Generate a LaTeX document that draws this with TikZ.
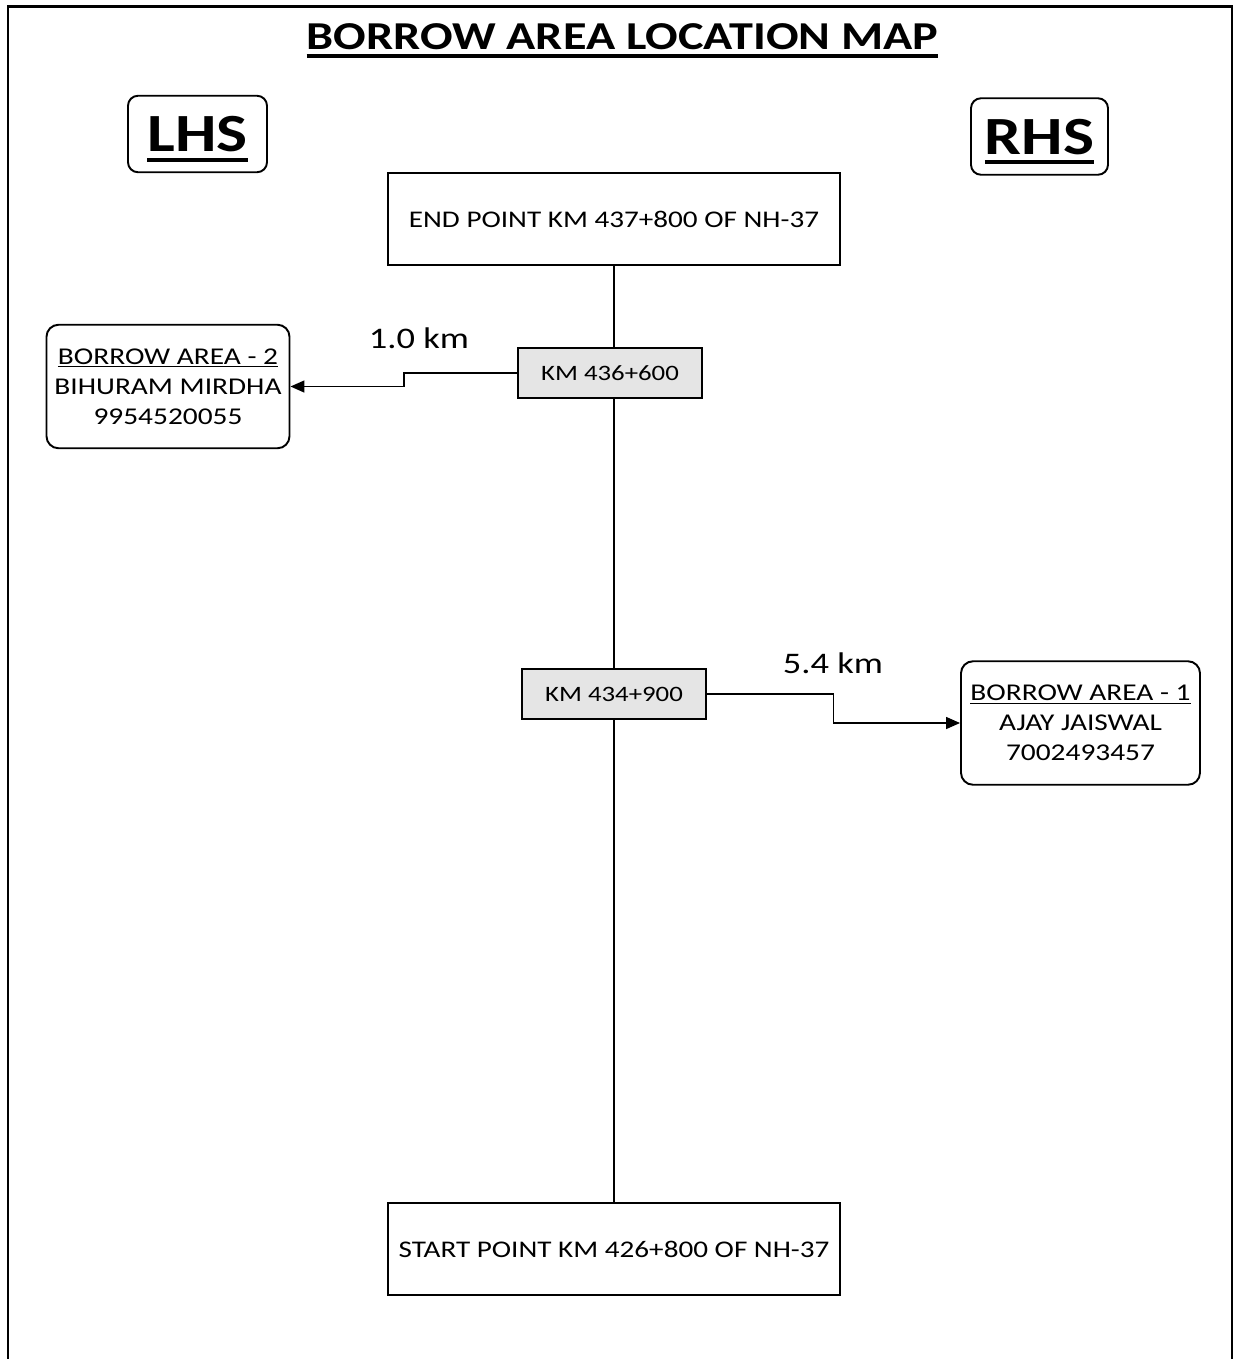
\documentclass[tikz,border=0pt]{standalone}
\usepackage{fontspec}
\setmainfont{Carlito}[FakeStretch=1.22]
\usepackage{tikz}
\usetikzlibrary{calc,arrows.meta}

\newsavebox{\ulsave}
\newcommand{\ulbar}[3]{\sbox{\ulsave}{#3}\rlap{\rule[#1]{\wd\ulsave}{#2}}\usebox{\ulsave}}

\begin{document}
\begin{tikzpicture}[
  plainbox/.style = {draw, line width=1.1pt, minimum width=9.04cm, minimum height=1.84cm, font=\fontsize{13.6}{16}\selectfont},
  kmbox/.style = {draw, line width=1.1pt, fill=black!10, minimum width=3.68cm, minimum height=1cm, font=\fontsize{12.5}{15}\selectfont},
  areabox/.style = {draw, line width=1.1pt, rounded corners=0.24cm, align=center, minimum height=2.47cm, font=\fontsize{13.7}{17.1}\selectfont},
  sidebox/.style = {draw, line width=1.1pt, rounded corners=0.2cm, minimum height=1.53cm, text depth=0pt, font=\fontsize{30.6}{34}\selectfont\bfseries},
  link/.style = {line width=0.9pt, -{Triangle[length=0.28cm,width=0.24cm]}},
  distlbl/.style = {anchor=base, font=\fontsize{17}{20}\selectfont}
]
  \useasboundingbox (0,0) rectangle (24.8,-27.18);
  \draw[line width=1.4pt] (0.16,-27.6) -- (0.16,-0.126) -- (24.64,-0.126) -- (24.64,-27.6);

  \node[anchor=base, font=\fontsize{22.5}{26}\selectfont\bfseries] (title) at (12.45,-0.98) {\ulbar{-0.18cm}{0.08cm}{BORROW AREA LOCATION MAP}};

  \node[sidebox, minimum width=2.78cm] (lhs) at (3.95,-2.68) {\ulbar{-0.2cm}{0.08cm}{LHS}};
  \node[sidebox, minimum width=2.74cm] (rhs) at (20.79,-2.73) {\ulbar{-0.2cm}{0.08cm}{RHS}};

  \node[plainbox] (endpt) at (12.28,-4.38) {END POINT KM 437+800 OF NH-37};
  \node[plainbox] (startpt) at (12.28,-24.98) {START POINT KM 426+800 OF NH-37};

  % road
  \draw[line width=1.1pt] (endpt.south) -- (startpt.north);
  \node[kmbox] (km436) at (12.2,-7.46) {KM 436+600};
  \node[kmbox] (km434) at (12.28,-13.88) {KM 434+900};

  \node[areabox, minimum width=4.86cm] (ba2) at (3.36,-7.73) {\underline{BORROW AREA - 2}\\BIHURAM MIRDHA\\9954520055};
  \node[areabox, minimum width=4.78cm] (ba1) at (21.61,-14.46) {\underline{BORROW AREA - 1}\\AJAY JAISWAL\\7002493457};

  \draw[link] (km436.west) -| ($(km436.west)!0.5!(ba2.east)$) |- (ba2.east);
  \draw[link] (km434.east) -| ($(km434.east)!0.5!(ba1.west)$) |- (ba1.west);

  \node[distlbl] (d2) at (8.38,-6.96) {1.0 km};
  \node[distlbl] (d1) at (16.66,-13.46) {5.4 km};
\end{tikzpicture}
\end{document}
